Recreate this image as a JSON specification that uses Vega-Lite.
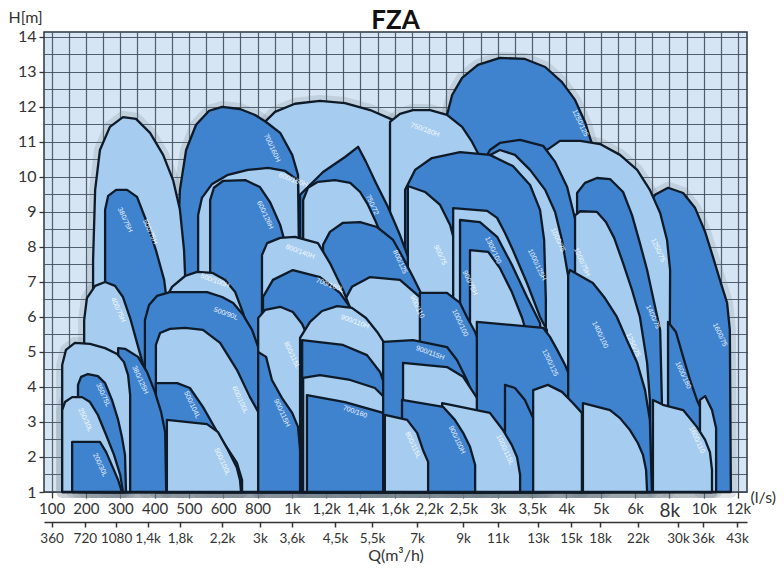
{
"$schema":"https://vega.github.io/schema/vega-lite/v6.json",
"autosize":{"type":"none"},
"padding":{"left":44,"top":32,"right":37,"bottom":82},
"width":703,"height":460,
"background":"#ffffff",
"config":{"view":{"fill":"#d6e5f3","stroke":"#2c3640","strokeWidth":1.5}},
"title":{"text":"FZA","font":"Lato","fontSize":26,"fontWeight":"bold","color":"#111111","anchor":"middle","offset":4,"dy":29},
"datasets":{
"shapes":[
{"id":"s01","s":"D","k":0,"q":11.52,"h":1},{"id":"s01","s":"D","k":1,"q":11.52,"h":11.77},{"id":"s01","s":"D","k":2,"q":11.67,"h":12.34},{"id":"s01","s":"D","k":3,"q":11.96,"h":12.83},{"id":"s01","s":"D","k":4,"q":12.42,"h":13.2},{"id":"s01","s":"D","k":5,"q":13.06,"h":13.4},{"id":"s01","s":"D","k":6,"q":13.79,"h":13.37},{"id":"s01","s":"D","k":7,"q":14.38,"h":13.14},{"id":"s01","s":"D","k":8,"q":14.87,"h":12.71},{"id":"s01","s":"D","k":9,"q":15.25,"h":12.2},{"id":"s01","s":"D","k":10,"q":15.54,"h":11.57},{"id":"s01","s":"D","k":11,"q":15.77,"h":10.86},{"id":"s01","s":"D","k":12,"q":15.98,"h":10.06},{"id":"s01","s":"D","k":13,"q":15.98,"h":1},
{"id":"s02","s":"L","k":0,"q":6.13,"h":1},{"id":"s02","s":"L","k":1,"q":6.13,"h":11.49},{"id":"s02","s":"L","k":2,"q":6.51,"h":11.86},{"id":"s02","s":"L","k":3,"q":7.09,"h":12.09},{"id":"s02","s":"L","k":4,"q":7.82,"h":12.17},{"id":"s02","s":"L","k":5,"q":8.55,"h":12.11},{"id":"s02","s":"L","k":6,"q":9.28,"h":11.91},{"id":"s02","s":"L","k":7,"q":10.01,"h":11.6},{"id":"s02","s":"L","k":8,"q":10.73,"h":11.26},{"id":"s02","s":"L","k":9,"q":11.46,"h":10.83},{"id":"s02","s":"L","k":10,"q":12.05,"h":10.43},{"id":"s02","s":"L","k":11,"q":12.48,"h":9.97},{"id":"s02","s":"L","k":12,"q":12.77,"h":9.34},{"id":"s02","s":"L","k":13,"q":12.92,"h":1},
{"id":"s03","s":"L","k":0,"q":9.86,"h":1},{"id":"s03","s":"L","k":1,"q":9.86,"h":11.57},{"id":"s03","s":"L","k":2,"q":10.15,"h":11.8},{"id":"s03","s":"L","k":3,"q":10.53,"h":11.91},{"id":"s03","s":"L","k":4,"q":11.03,"h":11.91},{"id":"s03","s":"L","k":5,"q":11.52,"h":11.77},{"id":"s03","s":"L","k":6,"q":11.96,"h":11.43},{"id":"s03","s":"L","k":7,"q":12.25,"h":11.0},{"id":"s03","s":"L","k":8,"q":12.48,"h":10.57},{"id":"s03","s":"L","k":9,"q":12.77,"h":9.91},{"id":"s03","s":"L","k":10,"q":12.95,"h":1},
{"id":"s04","s":"D","k":0,"q":17.14,"h":1},{"id":"s04","s":"D","k":1,"q":17.14,"h":8.49},{"id":"s04","s":"D","k":2,"q":17.29,"h":9.06},{"id":"s04","s":"D","k":3,"q":17.58,"h":9.49},{"id":"s04","s":"D","k":4,"q":17.96,"h":9.69},{"id":"s04","s":"D","k":5,"q":18.4,"h":9.54},{"id":"s04","s":"D","k":6,"q":18.75,"h":9.11},{"id":"s04","s":"D","k":7,"q":19.04,"h":8.43},{"id":"s04","s":"D","k":8,"q":19.27,"h":7.71},{"id":"s04","s":"D","k":9,"q":19.47,"h":7.06},{"id":"s04","s":"D","k":10,"q":19.68,"h":6.4},{"id":"s04","s":"D","k":11,"q":19.76,"h":5.63},{"id":"s04","s":"D","k":12,"q":19.79,"h":1},
{"id":"s05","s":"L","k":0,"q":13.94,"h":1},{"id":"s05","s":"L","k":1,"q":13.94,"h":10.2},{"id":"s05","s":"L","k":2,"q":14.23,"h":10.63},{"id":"s05","s":"L","k":3,"q":14.81,"h":11.03},{"id":"s05","s":"L","k":4,"q":15.4,"h":11.03},{"id":"s05","s":"L","k":5,"q":15.98,"h":10.94},{"id":"s05","s":"L","k":6,"q":16.56,"h":10.63},{"id":"s05","s":"L","k":7,"q":17.06,"h":10.2},{"id":"s05","s":"L","k":8,"q":17.43,"h":9.63},{"id":"s05","s":"L","k":9,"q":17.73,"h":8.97},{"id":"s05","s":"L","k":10,"q":17.93,"h":8.2},{"id":"s05","s":"L","k":11,"q":18.02,"h":7.34},{"id":"s05","s":"L","k":12,"q":17.99,"h":1},
{"id":"s06","s":"D","k":0,"q":12.54,"h":1},{"id":"s06","s":"D","k":1,"q":12.54,"h":10.34},{"id":"s06","s":"D","k":2,"q":12.77,"h":10.77},{"id":"s06","s":"D","k":3,"q":13.06,"h":10.97},{"id":"s06","s":"D","k":4,"q":13.65,"h":11.06},{"id":"s06","s":"D","k":5,"q":14.32,"h":10.89},{"id":"s06","s":"D","k":6,"q":14.67,"h":10.43},{"id":"s06","s":"D","k":7,"q":15.02,"h":9.71},{"id":"s06","s":"D","k":8,"q":15.31,"h":8.57},{"id":"s06","s":"D","k":9,"q":15.6,"h":7.26},{"id":"s06","s":"D","k":10,"q":15.89,"h":5.91},{"id":"s06","s":"D","k":11,"q":16.07,"h":4.77},{"id":"s06","s":"D","k":12,"q":16.12,"h":1},
{"id":"s07","s":"L","k":0,"q":12.42,"h":1},{"id":"s07","s":"L","k":1,"q":12.42,"h":10.06},{"id":"s07","s":"L","k":2,"q":12.72,"h":10.6},{"id":"s07","s":"L","k":3,"q":13.06,"h":10.77},{"id":"s07","s":"L","k":4,"q":13.5,"h":10.63},{"id":"s07","s":"L","k":5,"q":13.94,"h":10.2},{"id":"s07","s":"L","k":6,"q":14.38,"h":9.63},{"id":"s07","s":"L","k":7,"q":14.67,"h":9.0},{"id":"s07","s":"L","k":8,"q":14.87,"h":8.2},{"id":"s07","s":"L","k":9,"q":15.02,"h":7.34},{"id":"s07","s":"L","k":10,"q":15.25,"h":6.06},{"id":"s07","s":"L","k":11,"q":15.45,"h":4.77},{"id":"s07","s":"L","k":12,"q":15.51,"h":1},
{"id":"s08","s":"D","k":0,"q":10.3,"h":1},{"id":"s08","s":"D","k":1,"q":10.3,"h":9.63},{"id":"s08","s":"D","k":2,"q":10.59,"h":10.2},{"id":"s08","s":"D","k":3,"q":11.08,"h":10.54},{"id":"s08","s":"D","k":4,"q":11.9,"h":10.71},{"id":"s08","s":"D","k":5,"q":12.77,"h":10.63},{"id":"s08","s":"D","k":6,"q":13.44,"h":10.31},{"id":"s08","s":"D","k":7,"q":13.94,"h":9.77},{"id":"s08","s":"D","k":8,"q":14.23,"h":9.06},{"id":"s08","s":"D","k":9,"q":14.35,"h":8.2},{"id":"s08","s":"D","k":10,"q":14.4,"h":6.49},{"id":"s08","s":"D","k":11,"q":14.4,"h":1},
{"id":"s09","s":"D","k":0,"q":15.31,"h":1},{"id":"s09","s":"D","k":1,"q":15.31,"h":9.54},{"id":"s09","s":"D","k":2,"q":15.54,"h":9.83},{"id":"s09","s":"D","k":3,"q":15.89,"h":9.97},{"id":"s09","s":"D","k":4,"q":16.27,"h":9.94},{"id":"s09","s":"D","k":5,"q":16.65,"h":9.57},{"id":"s09","s":"D","k":6,"q":16.91,"h":8.91},{"id":"s09","s":"D","k":7,"q":17.14,"h":8.11},{"id":"s09","s":"D","k":8,"q":17.35,"h":7.34},{"id":"s09","s":"D","k":9,"q":17.52,"h":6.57},{"id":"s09","s":"D","k":10,"q":17.73,"h":5.63},{"id":"s09","s":"D","k":11,"q":17.78,"h":3.63},{"id":"s09","s":"D","k":12,"q":17.78,"h":1},
{"id":"s10","s":"L","k":0,"q":15.25,"h":1},{"id":"s10","s":"L","k":1,"q":15.25,"h":8.9},{"id":"s10","s":"L","k":2,"q":15.4,"h":9.02},{"id":"s10","s":"L","k":3,"q":15.89,"h":9.0},{"id":"s10","s":"L","k":4,"q":16.15,"h":8.71},{"id":"s10","s":"L","k":5,"q":16.39,"h":8.26},{"id":"s10","s":"L","k":6,"q":16.65,"h":7.54},{"id":"s10","s":"L","k":7,"q":16.91,"h":6.77},{"id":"s10","s":"L","k":8,"q":17.14,"h":6.0},{"id":"s10","s":"L","k":9,"q":17.35,"h":4.69},{"id":"s10","s":"L","k":10,"q":17.43,"h":3.63},{"id":"s10","s":"L","k":11,"q":17.43,"h":1},
{"id":"s11","s":"D","k":0,"q":3.68,"h":1},{"id":"s11","s":"D","k":1,"q":3.68,"h":8.2},{"id":"s11","s":"D","k":2,"q":3.74,"h":9.63},{"id":"s11","s":"D","k":3,"q":3.92,"h":10.77},{"id":"s11","s":"D","k":4,"q":4.21,"h":11.49},{"id":"s11","s":"D","k":5,"q":4.59,"h":11.89},{"id":"s11","s":"D","k":6,"q":4.97,"h":12.0},{"id":"s11","s":"D","k":7,"q":5.49,"h":11.94},{"id":"s11","s":"D","k":8,"q":5.93,"h":11.77},{"id":"s11","s":"D","k":9,"q":6.25,"h":11.57},{"id":"s11","s":"D","k":10,"q":6.66,"h":11.26},{"id":"s11","s":"D","k":11,"q":7.01,"h":10.63},{"id":"s11","s":"D","k":12,"q":7.18,"h":10.06},{"id":"s11","s":"D","k":13,"q":7.24,"h":1},
{"id":"s12","s":"L","k":0,"q":1.21,"h":1},{"id":"s12","s":"L","k":1,"q":1.21,"h":7.63},{"id":"s12","s":"L","k":2,"q":1.27,"h":9.63},{"id":"s12","s":"L","k":3,"q":1.41,"h":10.77},{"id":"s12","s":"L","k":4,"q":1.7,"h":11.43},{"id":"s12","s":"L","k":5,"q":2.08,"h":11.71},{"id":"s12","s":"L","k":6,"q":2.46,"h":11.66},{"id":"s12","s":"L","k":7,"q":2.87,"h":11.26},{"id":"s12","s":"L","k":8,"q":3.25,"h":10.63},{"id":"s12","s":"L","k":9,"q":3.54,"h":9.91},{"id":"s12","s":"L","k":10,"q":3.74,"h":9.06},{"id":"s12","s":"L","k":11,"q":3.86,"h":7.91},{"id":"s12","s":"L","k":12,"q":3.92,"h":6.49},{"id":"s12","s":"L","k":13,"q":3.92,"h":1},
{"id":"s13","s":"D","k":0,"q":1.56,"h":1},{"id":"s13","s":"D","k":1,"q":1.56,"h":9.06},{"id":"s13","s":"D","k":2,"q":1.65,"h":9.46},{"id":"s13","s":"D","k":3,"q":1.88,"h":9.63},{"id":"s13","s":"D","k":4,"q":2.2,"h":9.63},{"id":"s13","s":"D","k":5,"q":2.49,"h":9.43},{"id":"s13","s":"D","k":6,"q":2.75,"h":8.77},{"id":"s13","s":"D","k":7,"q":3.04,"h":7.91},{"id":"s13","s":"D","k":8,"q":3.28,"h":7.06},{"id":"s13","s":"D","k":9,"q":3.39,"h":6.2},{"id":"s13","s":"D","k":10,"q":3.39,"h":1},
{"id":"s14","s":"L","k":0,"q":4.27,"h":1},{"id":"s14","s":"L","k":1,"q":4.27,"h":8.91},{"id":"s14","s":"L","k":2,"q":4.38,"h":9.4},{"id":"s14","s":"L","k":3,"q":4.68,"h":9.8},{"id":"s14","s":"L","k":4,"q":5.14,"h":10.06},{"id":"s14","s":"L","k":5,"q":5.72,"h":10.2},{"id":"s14","s":"L","k":6,"q":6.31,"h":10.26},{"id":"s14","s":"L","k":7,"q":6.8,"h":10.17},{"id":"s14","s":"L","k":8,"q":7.18,"h":9.91},{"id":"s14","s":"L","k":9,"q":7.3,"h":1},
{"id":"s15","s":"D","k":0,"q":4.62,"h":1},{"id":"s15","s":"D","k":1,"q":4.62,"h":9.34},{"id":"s15","s":"D","k":2,"q":4.73,"h":9.69},{"id":"s15","s":"D","k":3,"q":5.0,"h":9.89},{"id":"s15","s":"D","k":4,"q":5.64,"h":9.91},{"id":"s15","s":"D","k":5,"q":6.07,"h":9.71},{"id":"s15","s":"D","k":6,"q":6.36,"h":9.29},{"id":"s15","s":"D","k":7,"q":6.66,"h":8.63},{"id":"s15","s":"D","k":8,"q":6.86,"h":7.91},{"id":"s15","s":"D","k":9,"q":6.95,"h":7.06},{"id":"s15","s":"D","k":10,"q":6.95,"h":1},
{"id":"s16","s":"D","k":0,"q":7.24,"h":1},{"id":"s16","s":"D","k":1,"q":7.24,"h":9.49},{"id":"s16","s":"D","k":2,"q":7.91,"h":10.14},{"id":"s16","s":"D","k":3,"q":8.55,"h":10.57},{"id":"s16","s":"D","k":4,"q":8.93,"h":10.86},{"id":"s16","s":"D","k":5,"q":9.16,"h":10.43},{"id":"s16","s":"D","k":6,"q":9.45,"h":9.83},{"id":"s16","s":"D","k":7,"q":9.8,"h":9.14},{"id":"s16","s":"D","k":8,"q":10.15,"h":8.34},{"id":"s16","s":"D","k":9,"q":10.44,"h":7.57},{"id":"s16","s":"D","k":10,"q":10.73,"h":6.71},{"id":"s16","s":"D","k":11,"q":10.91,"h":5.63},{"id":"s16","s":"D","k":12,"q":10.94,"h":1},
{"id":"s17","s":"L","k":0,"q":7.33,"h":1},{"id":"s17","s":"L","k":1,"q":7.33,"h":9.34},{"id":"s17","s":"L","k":2,"q":7.47,"h":9.69},{"id":"s17","s":"L","k":3,"q":7.76,"h":9.86},{"id":"s17","s":"L","k":4,"q":8.26,"h":9.91},{"id":"s17","s":"L","k":5,"q":8.7,"h":9.83},{"id":"s17","s":"L","k":6,"q":8.99,"h":9.57},{"id":"s17","s":"L","k":7,"q":9.22,"h":9.2},{"id":"s17","s":"L","k":8,"q":9.45,"h":8.71},{"id":"s17","s":"L","k":9,"q":9.69,"h":8.14},{"id":"s17","s":"L","k":10,"q":9.92,"h":7.49},{"id":"s17","s":"L","k":11,"q":10.09,"h":6.77},{"id":"s17","s":"L","k":12,"q":10.15,"h":1},
{"id":"s18","s":"L","k":0,"q":10.38,"h":1},{"id":"s18","s":"L","k":1,"q":10.38,"h":9.74},{"id":"s18","s":"L","k":2,"q":10.88,"h":9.57},{"id":"s18","s":"L","k":3,"q":11.32,"h":9.2},{"id":"s18","s":"L","k":4,"q":11.61,"h":8.63},{"id":"s18","s":"L","k":5,"q":11.81,"h":7.91},{"id":"s18","s":"L","k":6,"q":11.9,"h":6.97},{"id":"s18","s":"L","k":7,"q":11.96,"h":5.63},{"id":"s18","s":"L","k":8,"q":11.96,"h":1},
{"id":"s19","s":"L","k":0,"q":11.7,"h":1},{"id":"s19","s":"L","k":1,"q":11.7,"h":9.11},{"id":"s19","s":"L","k":2,"q":12.69,"h":9.03},{"id":"s19","s":"L","k":3,"q":12.98,"h":8.83},{"id":"s19","s":"L","k":4,"q":13.21,"h":8.4},{"id":"s19","s":"L","k":5,"q":13.44,"h":7.91},{"id":"s19","s":"L","k":6,"q":13.85,"h":6.97},{"id":"s19","s":"L","k":7,"q":14.23,"h":6.0},{"id":"s19","s":"L","k":8,"q":14.43,"h":5.63},{"id":"s19","s":"L","k":9,"q":14.46,"h":1},
{"id":"s20","s":"D","k":0,"q":11.9,"h":1},{"id":"s20","s":"D","k":1,"q":11.9,"h":8.77},{"id":"s20","s":"D","k":2,"q":12.48,"h":8.71},{"id":"s20","s":"D","k":3,"q":12.98,"h":8.29},{"id":"s20","s":"D","k":4,"q":13.44,"h":7.43},{"id":"s20","s":"D","k":5,"q":13.85,"h":6.57},{"id":"s20","s":"D","k":6,"q":14.23,"h":5.83},{"id":"s20","s":"D","k":7,"q":14.29,"h":5.2},{"id":"s20","s":"D","k":8,"q":14.29,"h":1},
{"id":"s21","s":"L","k":0,"q":12.19,"h":1},{"id":"s21","s":"L","k":1,"q":12.19,"h":7.91},{"id":"s21","s":"L","k":2,"q":12.72,"h":7.86},{"id":"s21","s":"L","k":3,"q":13.06,"h":7.4},{"id":"s21","s":"L","k":4,"q":13.41,"h":6.71},{"id":"s21","s":"L","k":5,"q":13.71,"h":5.97},{"id":"s21","s":"L","k":6,"q":13.94,"h":5.2},{"id":"s21","s":"L","k":7,"q":14.0,"h":1},
{"id":"s22","s":"D","k":0,"q":7.91,"h":1},{"id":"s22","s":"D","k":1,"q":7.91,"h":8.06},{"id":"s22","s":"D","k":2,"q":8.11,"h":8.43},{"id":"s22","s":"D","k":3,"q":8.49,"h":8.69},{"id":"s22","s":"D","k":4,"q":8.99,"h":8.71},{"id":"s22","s":"D","k":5,"q":9.48,"h":8.57},{"id":"s22","s":"D","k":6,"q":9.95,"h":8.2},{"id":"s22","s":"D","k":7,"q":10.24,"h":7.69},{"id":"s22","s":"D","k":8,"q":10.53,"h":7.14},{"id":"s22","s":"D","k":9,"q":10.82,"h":6.57},{"id":"s22","s":"D","k":10,"q":11.03,"h":5.91},{"id":"s22","s":"D","k":11,"q":11.08,"h":1},
{"id":"s23","s":"L","k":0,"q":8.55,"h":1},{"id":"s23","s":"L","k":1,"q":8.55,"h":6.49},{"id":"s23","s":"L","k":2,"q":8.75,"h":6.86},{"id":"s23","s":"L","k":3,"q":9.28,"h":7.14},{"id":"s23","s":"L","k":4,"q":10.15,"h":7.06},{"id":"s23","s":"L","k":5,"q":10.73,"h":6.57},{"id":"s23","s":"L","k":6,"q":11.11,"h":5.83},{"id":"s23","s":"L","k":7,"q":11.32,"h":5.34},{"id":"s23","s":"L","k":8,"q":11.46,"h":4.77},{"id":"s23","s":"L","k":9,"q":11.49,"h":1},
{"id":"s24","s":"D","k":0,"q":10.73,"h":1},{"id":"s24","s":"D","k":1,"q":10.73,"h":6.69},{"id":"s24","s":"D","k":2,"q":11.52,"h":6.69},{"id":"s24","s":"D","k":3,"q":11.9,"h":6.4},{"id":"s24","s":"D","k":4,"q":12.1,"h":6.0},{"id":"s24","s":"D","k":5,"q":12.34,"h":5.57},{"id":"s24","s":"D","k":6,"q":12.48,"h":5.2},{"id":"s24","s":"D","k":7,"q":12.54,"h":1},
{"id":"s25","s":"L","k":0,"q":3.31,"h":1},{"id":"s25","s":"L","k":1,"q":3.31,"h":6.49},{"id":"s25","s":"L","k":2,"q":3.51,"h":6.86},{"id":"s25","s":"L","k":3,"q":3.89,"h":7.17},{"id":"s25","s":"L","k":4,"q":4.24,"h":7.29},{"id":"s25","s":"L","k":5,"q":4.68,"h":7.26},{"id":"s25","s":"L","k":6,"q":5.05,"h":7.06},{"id":"s25","s":"L","k":7,"q":5.35,"h":6.71},{"id":"s25","s":"L","k":8,"q":5.58,"h":6.11},{"id":"s25","s":"L","k":9,"q":5.78,"h":5.49},{"id":"s25","s":"L","k":10,"q":5.93,"h":4.77},{"id":"s25","s":"L","k":11,"q":6.02,"h":1},
{"id":"s26","s":"D","k":0,"q":2.72,"h":1},{"id":"s26","s":"D","k":1,"q":2.72,"h":5.91},{"id":"s26","s":"D","k":2,"q":2.84,"h":6.34},{"id":"s26","s":"D","k":3,"q":3.07,"h":6.6},{"id":"s26","s":"D","k":4,"q":3.45,"h":6.71},{"id":"s26","s":"D","k":5,"q":4.53,"h":6.71},{"id":"s26","s":"D","k":6,"q":4.97,"h":6.57},{"id":"s26","s":"D","k":7,"q":5.29,"h":6.4},{"id":"s26","s":"D","k":8,"q":5.58,"h":6.06},{"id":"s26","s":"D","k":9,"q":5.84,"h":5.63},{"id":"s26","s":"D","k":10,"q":6.02,"h":5.14},{"id":"s26","s":"D","k":11,"q":6.13,"h":4.49},{"id":"s26","s":"D","k":12,"q":6.13,"h":1},
{"id":"s27","s":"L","k":0,"q":3.04,"h":1},{"id":"s27","s":"L","k":1,"q":3.04,"h":5.2},{"id":"s27","s":"L","k":2,"q":3.16,"h":5.54},{"id":"s27","s":"L","k":3,"q":3.45,"h":5.66},{"id":"s27","s":"L","k":4,"q":3.89,"h":5.69},{"id":"s27","s":"L","k":5,"q":4.41,"h":5.63},{"id":"s27","s":"L","k":6,"q":4.91,"h":5.26},{"id":"s27","s":"L","k":7,"q":5.4,"h":4.49},{"id":"s27","s":"L","k":8,"q":5.78,"h":3.71},{"id":"s27","s":"L","k":9,"q":6.02,"h":3.29},{"id":"s27","s":"L","k":10,"q":6.02,"h":1},
{"id":"s28","s":"D","k":0,"q":3.04,"h":1},{"id":"s28","s":"D","k":1,"q":3.04,"h":4.11},{"id":"s28","s":"D","k":2,"q":3.66,"h":4.11},{"id":"s28","s":"D","k":3,"q":4.03,"h":3.97},{"id":"s28","s":"D","k":4,"q":4.41,"h":3.43},{"id":"s28","s":"D","k":5,"q":4.91,"h":2.57},{"id":"s28","s":"D","k":6,"q":5.4,"h":1.83},{"id":"s28","s":"D","k":7,"q":5.55,"h":1.34},{"id":"s28","s":"D","k":8,"q":5.55,"h":1},
{"id":"s29","s":"L","k":0,"q":3.36,"h":1},{"id":"s29","s":"L","k":1,"q":3.36,"h":3.06},{"id":"s29","s":"L","k":2,"q":4.53,"h":2.94},{"id":"s29","s":"L","k":3,"q":4.85,"h":2.71},{"id":"s29","s":"L","k":4,"q":5.14,"h":2.2},{"id":"s29","s":"L","k":5,"q":5.4,"h":1.69},{"id":"s29","s":"L","k":6,"q":5.49,"h":1.34},{"id":"s29","s":"L","k":7,"q":5.52,"h":1},
{"id":"s30","s":"L","k":0,"q":6.13,"h":1},{"id":"s30","s":"L","k":1,"q":6.13,"h":7.77},{"id":"s30","s":"L","k":2,"q":6.28,"h":8.11},{"id":"s30","s":"L","k":3,"q":6.66,"h":8.26},{"id":"s30","s":"L","k":4,"q":7.09,"h":8.29},{"id":"s30","s":"L","k":5,"q":7.76,"h":8.11},{"id":"s30","s":"L","k":6,"q":8.11,"h":7.54},{"id":"s30","s":"L","k":7,"q":8.49,"h":6.77},{"id":"s30","s":"L","k":8,"q":8.84,"h":5.91},{"id":"s30","s":"L","k":9,"q":9.19,"h":4.91},{"id":"s30","s":"L","k":10,"q":9.42,"h":3.91},{"id":"s30","s":"L","k":11,"q":9.51,"h":1},
{"id":"s31","s":"D","k":0,"q":6.16,"h":1},{"id":"s31","s":"D","k":1,"q":6.16,"h":6.57},{"id":"s31","s":"D","k":2,"q":6.45,"h":7.06},{"id":"s31","s":"D","k":3,"q":7.03,"h":7.34},{"id":"s31","s":"D","k":4,"q":7.82,"h":7.14},{"id":"s31","s":"D","k":5,"q":8.4,"h":6.69},{"id":"s31","s":"D","k":6,"q":8.75,"h":6.2},{"id":"s31","s":"D","k":7,"q":9.04,"h":5.49},{"id":"s31","s":"D","k":8,"q":9.28,"h":4.77},{"id":"s31","s":"D","k":9,"q":9.45,"h":3.86},{"id":"s31","s":"D","k":10,"q":9.48,"h":1},
{"id":"s32","s":"L","k":0,"q":6.02,"h":1},{"id":"s32","s":"L","k":1,"q":6.02,"h":5.97},{"id":"s32","s":"L","k":2,"q":6.22,"h":6.2},{"id":"s32","s":"L","k":3,"q":6.66,"h":6.29},{"id":"s32","s":"L","k":4,"q":7.03,"h":6.14},{"id":"s32","s":"L","k":5,"q":7.3,"h":5.8},{"id":"s32","s":"L","k":6,"q":7.53,"h":5.29},{"id":"s32","s":"L","k":7,"q":7.76,"h":4.71},{"id":"s32","s":"L","k":8,"q":7.97,"h":4.06},{"id":"s32","s":"L","k":9,"q":8.03,"h":1},
{"id":"s33","s":"L","k":0,"q":7.24,"h":1},{"id":"s33","s":"L","k":1,"q":7.24,"h":5.4},{"id":"s33","s":"L","k":2,"q":7.53,"h":5.86},{"id":"s33","s":"L","k":3,"q":7.88,"h":6.17},{"id":"s33","s":"L","k":4,"q":8.32,"h":6.31},{"id":"s33","s":"L","k":5,"q":8.75,"h":6.26},{"id":"s33","s":"L","k":6,"q":9.16,"h":5.97},{"id":"s33","s":"L","k":7,"q":9.51,"h":5.54},{"id":"s33","s":"L","k":8,"q":9.77,"h":5.14},{"id":"s33","s":"L","k":9,"q":10.01,"h":4.63},{"id":"s33","s":"L","k":10,"q":10.15,"h":4.06},{"id":"s33","s":"L","k":11,"q":10.18,"h":1},
{"id":"s34","s":"D","k":0,"q":7.3,"h":1},{"id":"s34","s":"D","k":1,"q":7.3,"h":5.34},{"id":"s34","s":"D","k":2,"q":8.49,"h":5.2},{"id":"s34","s":"D","k":3,"q":9.19,"h":4.91},{"id":"s34","s":"D","k":4,"q":9.57,"h":4.43},{"id":"s34","s":"D","k":5,"q":9.77,"h":3.86},{"id":"s34","s":"D","k":6,"q":9.86,"h":1},
{"id":"s35","s":"L","k":0,"q":7.33,"h":1},{"id":"s35","s":"L","k":1,"q":7.33,"h":4.26},{"id":"s35","s":"L","k":2,"q":7.82,"h":4.34},{"id":"s35","s":"L","k":3,"q":8.7,"h":4.2},{"id":"s35","s":"L","k":4,"q":9.42,"h":3.97},{"id":"s35","s":"L","k":5,"q":9.71,"h":3.69},{"id":"s35","s":"L","k":6,"q":9.74,"h":1},
{"id":"s36","s":"D","k":0,"q":6.02,"h":1},{"id":"s36","s":"D","k":1,"q":6.02,"h":5.0},{"id":"s36","s":"D","k":2,"q":6.25,"h":4.86},{"id":"s36","s":"D","k":3,"q":6.42,"h":4.2},{"id":"s36","s":"D","k":4,"q":6.71,"h":3.69},{"id":"s36","s":"D","k":5,"q":7.01,"h":3.26},{"id":"s36","s":"D","k":6,"q":7.18,"h":2.86},{"id":"s36","s":"D","k":7,"q":7.24,"h":2.2},{"id":"s36","s":"D","k":8,"q":7.24,"h":1},
{"id":"s37","s":"D","k":0,"q":7.44,"h":1},{"id":"s37","s":"D","k":1,"q":7.44,"h":3.77},{"id":"s37","s":"D","k":2,"q":8.55,"h":3.57},{"id":"s37","s":"D","k":3,"q":9.66,"h":3.26},{"id":"s37","s":"D","k":4,"q":9.69,"h":1},
{"id":"s38","s":"D","k":0,"q":9.66,"h":1},{"id":"s38","s":"D","k":1,"q":9.66,"h":5.29},{"id":"s38","s":"D","k":2,"q":10.53,"h":5.34},{"id":"s38","s":"D","k":3,"q":11.52,"h":5.14},{"id":"s38","s":"D","k":4,"q":11.81,"h":4.77},{"id":"s38","s":"D","k":5,"q":12.1,"h":4.2},{"id":"s38","s":"D","k":6,"q":12.34,"h":3.63},{"id":"s38","s":"D","k":7,"q":12.42,"h":1},
{"id":"s39","s":"L","k":0,"q":10.24,"h":1},{"id":"s39","s":"L","k":1,"q":10.24,"h":4.69},{"id":"s39","s":"L","k":2,"q":11.52,"h":4.57},{"id":"s39","s":"L","k":3,"q":11.99,"h":4.29},{"id":"s39","s":"L","k":4,"q":12.34,"h":3.77},{"id":"s39","s":"L","k":5,"q":12.63,"h":3.34},{"id":"s39","s":"L","k":6,"q":12.83,"h":2.77},{"id":"s39","s":"L","k":7,"q":12.92,"h":1},
{"id":"s40","s":"D","k":0,"q":12.39,"h":1},{"id":"s40","s":"D","k":1,"q":12.39,"h":5.86},{"id":"s40","s":"D","k":2,"q":14.32,"h":5.69},{"id":"s40","s":"D","k":3,"q":14.52,"h":5.43},{"id":"s40","s":"D","k":4,"q":14.73,"h":5.06},{"id":"s40","s":"D","k":5,"q":14.96,"h":4.63},{"id":"s40","s":"D","k":6,"q":15.1,"h":4.29},{"id":"s40","s":"D","k":7,"q":15.25,"h":3.63},{"id":"s40","s":"D","k":8,"q":15.31,"h":1},
{"id":"s41","s":"D","k":0,"q":13.21,"h":1},{"id":"s41","s":"D","k":1,"q":13.21,"h":4.06},{"id":"s41","s":"D","k":2,"q":13.5,"h":3.97},{"id":"s41","s":"D","k":3,"q":13.79,"h":3.63},{"id":"s41","s":"D","k":4,"q":14.03,"h":3.11},{"id":"s41","s":"D","k":5,"q":14.06,"h":1},
{"id":"s42","s":"L","k":0,"q":11.38,"h":1},{"id":"s42","s":"L","k":1,"q":11.38,"h":3.54},{"id":"s42","s":"L","k":2,"q":12.77,"h":3.26},{"id":"s42","s":"L","k":3,"q":13.15,"h":2.77},{"id":"s42","s":"L","k":4,"q":13.41,"h":2.34},{"id":"s42","s":"L","k":5,"q":13.56,"h":2.0},{"id":"s42","s":"L","k":6,"q":13.65,"h":1.49},{"id":"s42","s":"L","k":7,"q":13.65,"h":1},
{"id":"s43","s":"D","k":0,"q":10.21,"h":1},{"id":"s43","s":"D","k":1,"q":10.21,"h":3.63},{"id":"s43","s":"D","k":2,"q":11.41,"h":3.43},{"id":"s43","s":"D","k":3,"q":11.75,"h":3.06},{"id":"s43","s":"D","k":4,"q":11.99,"h":2.69},{"id":"s43","s":"D","k":5,"q":12.19,"h":2.29},{"id":"s43","s":"D","k":6,"q":12.34,"h":1.77},{"id":"s43","s":"D","k":7,"q":12.34,"h":1},
{"id":"s44","s":"L","k":0,"q":9.71,"h":1},{"id":"s44","s":"L","k":1,"q":9.71,"h":3.2},{"id":"s44","s":"L","k":2,"q":10.36,"h":3.06},{"id":"s44","s":"L","k":3,"q":10.65,"h":2.69},{"id":"s44","s":"L","k":4,"q":10.82,"h":2.2},{"id":"s44","s":"L","k":5,"q":10.97,"h":1.86},{"id":"s44","s":"L","k":6,"q":10.97,"h":1},
{"id":"s45","s":"D","k":0,"q":15.05,"h":1},{"id":"s45","s":"D","k":1,"q":15.05,"h":7.2},{"id":"s45","s":"D","k":2,"q":15.1,"h":7.34},{"id":"s45","s":"D","k":3,"q":15.77,"h":6.97},{"id":"s45","s":"D","k":4,"q":16.12,"h":6.54},{"id":"s45","s":"D","k":5,"q":16.47,"h":6.0},{"id":"s45","s":"D","k":6,"q":16.76,"h":5.34},{"id":"s45","s":"D","k":7,"q":17.06,"h":4.69},{"id":"s45","s":"D","k":8,"q":17.29,"h":3.91},{"id":"s45","s":"D","k":9,"q":17.43,"h":3.06},{"id":"s45","s":"D","k":10,"q":17.49,"h":1},
{"id":"s46","s":"L","k":0,"q":14.03,"h":1},{"id":"s46","s":"L","k":1,"q":14.03,"h":3.91},{"id":"s46","s":"L","k":2,"q":14.46,"h":4.06},{"id":"s46","s":"L","k":3,"q":14.87,"h":3.86},{"id":"s46","s":"L","k":4,"q":15.16,"h":3.57},{"id":"s46","s":"L","k":5,"q":15.45,"h":3.26},{"id":"s46","s":"L","k":6,"q":15.45,"h":1},
{"id":"s47","s":"L","k":0,"q":15.48,"h":1},{"id":"s47","s":"L","k":1,"q":15.48,"h":3.54},{"id":"s47","s":"L","k":2,"q":16.27,"h":3.34},{"id":"s47","s":"L","k":3,"q":16.56,"h":3.11},{"id":"s47","s":"L","k":4,"q":16.85,"h":2.77},{"id":"s47","s":"L","k":5,"q":17.08,"h":2.4},{"id":"s47","s":"L","k":6,"q":17.23,"h":2.06},{"id":"s47","s":"L","k":7,"q":17.32,"h":1.63},{"id":"s47","s":"L","k":8,"q":17.35,"h":1},
{"id":"s48","s":"D","k":0,"q":17.96,"h":1},{"id":"s48","s":"D","k":1,"q":17.96,"h":5.86},{"id":"s48","s":"D","k":2,"q":18.19,"h":5.57},{"id":"s48","s":"D","k":3,"q":18.4,"h":4.86},{"id":"s48","s":"D","k":4,"q":18.6,"h":4.2},{"id":"s48","s":"D","k":5,"q":18.8,"h":3.63},{"id":"s48","s":"D","k":6,"q":19.04,"h":3.11},{"id":"s48","s":"D","k":7,"q":19.21,"h":2.49},{"id":"s48","s":"D","k":8,"q":19.24,"h":1},
{"id":"s49","s":"L","k":0,"q":18.89,"h":1},{"id":"s49","s":"L","k":1,"q":18.89,"h":3.63},{"id":"s49","s":"L","k":2,"q":19.04,"h":3.74},{"id":"s49","s":"L","k":3,"q":19.24,"h":3.34},{"id":"s49","s":"L","k":4,"q":19.36,"h":2.83},{"id":"s49","s":"L","k":5,"q":19.36,"h":1},
{"id":"s50","s":"L","k":0,"q":17.52,"h":1},{"id":"s50","s":"L","k":1,"q":17.52,"h":3.63},{"id":"s50","s":"L","k":2,"q":17.81,"h":3.49},{"id":"s50","s":"L","k":3,"q":18.4,"h":3.34},{"id":"s50","s":"L","k":4,"q":18.8,"h":2.86},{"id":"s50","s":"L","k":5,"q":19.04,"h":2.49},{"id":"s50","s":"L","k":6,"q":19.18,"h":2.14},{"id":"s50","s":"L","k":7,"q":19.24,"h":1.63},{"id":"s50","s":"L","k":8,"q":19.24,"h":1},
{"id":"s51","s":"L","k":0,"q":0.95,"h":1},{"id":"s51","s":"L","k":1,"q":0.95,"h":5.91},{"id":"s51","s":"L","k":2,"q":1.03,"h":6.54},{"id":"s51","s":"L","k":3,"q":1.27,"h":6.89},{"id":"s51","s":"L","k":4,"q":1.56,"h":7.0},{"id":"s51","s":"L","k":5,"q":1.85,"h":6.89},{"id":"s51","s":"L","k":6,"q":2.08,"h":6.57},{"id":"s51","s":"L","k":7,"q":2.29,"h":5.97},{"id":"s51","s":"L","k":8,"q":2.49,"h":5.26},{"id":"s51","s":"L","k":9,"q":2.67,"h":4.63},{"id":"s51","s":"L","k":10,"q":2.78,"h":4.06},{"id":"s51","s":"L","k":11,"q":2.78,"h":1},
{"id":"s52","s":"D","k":0,"q":1.94,"h":1},{"id":"s52","s":"D","k":1,"q":1.94,"h":5.11},{"id":"s52","s":"D","k":2,"q":2.14,"h":5.09},{"id":"s52","s":"D","k":3,"q":2.52,"h":4.86},{"id":"s52","s":"D","k":4,"q":2.78,"h":4.43},{"id":"s52","s":"D","k":5,"q":3.01,"h":3.86},{"id":"s52","s":"D","k":6,"q":3.19,"h":3.29},{"id":"s52","s":"D","k":7,"q":3.31,"h":2.71},{"id":"s52","s":"D","k":8,"q":3.34,"h":1},
{"id":"s53","s":"L","k":0,"q":0.31,"h":1},{"id":"s53","s":"L","k":1,"q":0.31,"h":4.63},{"id":"s53","s":"L","k":2,"q":0.42,"h":5.06},{"id":"s53","s":"L","k":3,"q":0.68,"h":5.26},{"id":"s53","s":"L","k":4,"q":1.12,"h":5.23},{"id":"s53","s":"L","k":5,"q":1.56,"h":5.11},{"id":"s53","s":"L","k":6,"q":1.91,"h":4.94},{"id":"s53","s":"L","k":7,"q":2.11,"h":4.71},{"id":"s53","s":"L","k":8,"q":2.23,"h":4.34},{"id":"s53","s":"L","k":9,"q":2.29,"h":3.77},{"id":"s53","s":"L","k":10,"q":2.29,"h":1},
{"id":"s54","s":"D","k":0,"q":0.77,"h":1},{"id":"s54","s":"D","k":1,"q":0.77,"h":4.06},{"id":"s54","s":"D","k":2,"q":0.86,"h":4.29},{"id":"s54","s":"D","k":3,"q":1.06,"h":4.37},{"id":"s54","s":"D","k":4,"q":1.35,"h":4.31},{"id":"s54","s":"D","k":5,"q":1.56,"h":4.11},{"id":"s54","s":"D","k":6,"q":1.76,"h":3.63},{"id":"s54","s":"D","k":7,"q":1.94,"h":3.06},{"id":"s54","s":"D","k":8,"q":2.05,"h":2.57},{"id":"s54","s":"D","k":9,"q":2.14,"h":2.06},{"id":"s54","s":"D","k":10,"q":2.17,"h":1},
{"id":"s55","s":"L","k":0,"q":0.31,"h":1},{"id":"s55","s":"L","k":1,"q":0.31,"h":3.34},{"id":"s55","s":"L","k":2,"q":0.39,"h":3.57},{"id":"s55","s":"L","k":3,"q":0.6,"h":3.71},{"id":"s55","s":"L","k":4,"q":0.89,"h":3.71},{"id":"s55","s":"L","k":5,"q":1.12,"h":3.57},{"id":"s55","s":"L","k":6,"q":1.35,"h":3.2},{"id":"s55","s":"L","k":7,"q":1.59,"h":2.63},{"id":"s55","s":"L","k":8,"q":1.82,"h":2.06},{"id":"s55","s":"L","k":9,"q":2.0,"h":1.49},{"id":"s55","s":"L","k":10,"q":2.08,"h":1},
{"id":"s56","s":"D","k":0,"q":0.6,"h":1},{"id":"s56","s":"D","k":1,"q":0.6,"h":2.43},{"id":"s56","s":"D","k":2,"q":1.41,"h":2.43},{"id":"s56","s":"D","k":3,"q":1.59,"h":2.14},{"id":"s56","s":"D","k":4,"q":1.79,"h":1.69},{"id":"s56","s":"D","k":5,"q":1.94,"h":1.34},{"id":"s56","s":"D","k":6,"q":2.05,"h":1}
],
"tags":[
{"t":"500/75H","q":2.87,"h":8.43,"part":"side"},{"t":"380/75H","q":2.14,"h":8.77,"part":"side"},{"t":"400/75H","q":1.94,"h":6.2,"part":"side"},{"t":"350/75L","q":1.5,"h":3.77,"part":"side"},{"t":"250/30L","q":0.98,"h":3.06,"part":"side"},{"t":"200/30L","q":1.41,"h":1.77,"part":"side"},{"t":"380/125H","q":2.58,"h":4.2,"part":"side"},{"t":"600/100L","q":5.49,"h":3.63,"part":"side"},{"t":"500/104L","q":4.09,"h":3.49,"part":"side"},{"t":"500/100L","q":4.97,"h":1.86,"part":"side"},{"t":"600/126H","q":6.22,"h":8.91,"part":"side"},{"t":"700/160H","q":6.42,"h":10.83,"part":"side"},{"t":"750/72","q":9.34,"h":9.2,"part":"side"},{"t":"800/115L","q":7.0,"h":4.91,"part":"side"},{"t":"900/115H","q":6.71,"h":3.26,"part":"side"},{"t":"800/125","q":10.15,"h":7.57,"part":"side"},{"t":"900/110","q":10.65,"h":6.29,"part":"side"},{"t":"1000/100","q":11.9,"h":5.83,"part":"side"},{"t":"900/100H","q":11.81,"h":2.49,"part":"side"},{"t":"800/115L","q":10.53,"h":2.34,"part":"side"},{"t":"1000/115L","q":13.21,"h":2.2,"part":"side"},{"t":"900/75","q":11.32,"h":7.77,"part":"side"},{"t":"900/75H","q":12.19,"h":6.97,"part":"side"},{"t":"1300/100","q":12.86,"h":7.91,"part":"side"},{"t":"1000/125H","q":14.14,"h":7.49,"part":"side"},{"t":"1200/125","q":14.52,"h":4.69,"part":"side"},{"t":"1250/125","q":15.4,"h":11.54,"part":"side"},{"t":"1000/75H","q":15.45,"h":7.57,"part":"side"},{"t":"1000/75","q":14.75,"h":8.2,"part":"side"},{"t":"1250/75","q":17.67,"h":7.91,"part":"side"},{"t":"1400/75","q":17.52,"h":6.0,"part":"side"},{"t":"1250/75","q":16.94,"h":5.2,"part":"side"},{"t":"1400/100","q":15.98,"h":5.49,"part":"side"},{"t":"1600/110","q":18.8,"h":2.49,"part":"side"},{"t":"1600/75","q":19.47,"h":5.49,"part":"side"},{"t":"1600/180","q":18.4,"h":4.34,"part":"side"},
{"t":"500/100H","q":4.76,"h":7.03,"part":"top"},{"t":"500/90L","q":5.08,"h":6.09,"part":"top"},{"t":"600/150H","q":7.04,"h":9.91,"part":"top"},{"t":"800/140H","q":7.24,"h":7.86,"part":"top"},{"t":"700/160L","q":8.11,"h":6.91,"part":"top"},{"t":"700/160","q":8.84,"h":3.29,"part":"top"},{"t":"900/110H","q":8.84,"h":5.86,"part":"top"},{"t":"900/115H","q":11.03,"h":4.97,"part":"top"},{"t":"750/180H","q":10.88,"h":11.34,"part":"top"}
]
},
"resolve":{"axis":{"x":"independent","y":"independent"}},
"layer":[
{"data":{"name":"shapes"},
 "mark":{"type":"line","interpolate":"linear-closed","stroke":"#6f7b88","strokeWidth":12,"strokeOpacity":0.2,"strokeJoin":"round","fill":null},
 "encoding":{
  "x":{"field":"q","type":"quantitative","scale":{"domain":[-0.22,20.26],"nice":false,"zero":false},"axis":null},
  "y":{"field":"h","type":"quantitative","scale":{"domain":[1,14.14],"nice":false,"zero":false},"axis":null},
  "detail":{"field":"id"},
  "order":{"field":"k","type":"quantitative"}
 }},
{"data":{"name":"shapes"},
 "mark":{"type":"line","interpolate":"linear-closed","stroke":"#0e1a27","strokeWidth":2.3,"strokeJoin":"round"},
 "encoding":{
  "x":{"field":"q","type":"quantitative","scale":{"domain":[-0.22,20.26],"nice":false,"zero":false},
   "axis":{"orient":"bottom","values":[0,0.5,1,1.5,2,2.5,3,3.5,4,4.5,5,5.5,6,6.5,7,7.5,8,8.5,9,9.5,10,10.5,11,11.5,12,12.5,13,13.5,14,14.5,15,15.5,16,16.5,17,17.5,18,18.5,19,19.5,20],
    "grid":true,"gridColor":"#3b4754","gridWidth":1.2,"gridOpacity":0.85,"domain":false,
    "tickSize":6,"tickColor":"#333333","tickWidth":1.3,
    "tickOpacity":{"condition":{"test":"datum.value % 1 === 0","value":1},"value":0},
    "labelExpr":"datum.value % 1 === 0 ? ['100','200','300','400','500','600','800','1k','1,2k','1,4k','1,6k','2,2k','2,5k','3k','3,5k','4k','5k','6k','8k','10k','12k'][datum.value] : ''",
    "labelFont":"Lato","labelFontSize":{"condition":{"test":"datum.value === 18","value":19},"value":15},"labelColor":"#333333","labelPadding":3,"labelOverlap":false,"labelFlush":false,
    "title":"(l/s)","titleX":706,"titleY":-3,"titleAlign":"left","titleBaseline":"top","titleFont":"Lato","titleFontSize":16,"titleFontWeight":"normal","titleColor":"#333333"}},
  "y":{"field":"h","type":"quantitative","scale":{"domain":[1,14.14],"nice":false,"zero":false},
   "axis":{"values":[1,1.5,2,2.5,3,3.5,4,4.5,5,5.5,6,6.5,7,7.5,8,8.5,9,9.5,10,10.5,11,11.5,12,12.5,13,13.5,14],
    "grid":true,"gridColor":"#3b4754","gridWidth":1.2,"gridOpacity":0.85,"domain":false,
    "tickSize":5,"tickColor":"#333333","tickWidth":1.3,
    "tickOpacity":{"condition":{"test":"datum.value % 1 === 0","value":1},"value":0},
    "labelExpr":"datum.value % 1 === 0 ? format(datum.value, 'd') : ''",
    "labelFont":"Lato","labelFontSize":16,"labelColor":"#333333","labelPadding":3,"labelOverlap":false,
    "title":"H[m]","titleAngle":0,"titleX":-36,"titleY":-10,"titleAlign":"left","titleBaseline":"alphabetic","titleFont":"Lato","titleFontSize":16,"titleFontWeight":"normal","titleColor":"#333333"}},
  "fill":{"field":"s","type":"nominal","scale":{"domain":["L","D"],"range":["#a6cdef","#3f83cf"]},"legend":null},
  "detail":{"field":"id"},
  "order":{"field":"k","type":"quantitative"}
 }},
{"data":{"name":"tags"},
 "transform":[{"filter":"datum.part === 'side'"}],
 "mark":{"type":"text","angle":65,"font":"Liberation Sans","fontSize":7,"color":"#ffffff","opacity":0.9},
 "encoding":{
  "x":{"field":"q","type":"quantitative","scale":{"domain":[-0.22,20.26],"nice":false,"zero":false},
   "axis":{"orient":"bottom","offset":30,"values":[0,0.97,1.88,2.8,3.74,4.97,6.07,7,8.26,9.34,10.65,11.99,13,14.17,15.13,15.98,17.08,18.25,18.98,19.97],
    "grid":false,"domain":true,"domainColor":"#333333","domainWidth":1.5,"tickSize":5,"tickColor":"#333333","tickWidth":1.5,
    "labelExpr":"['360','720','1080','1,4k','1,8k','2,2k','3k','3,6k','4,5k','5,5k','7k','9k','11k','13k','15k','18k','22k','30k','36k','43k'][indexof([0,0.97,1.88,2.8,3.74,4.97,6.07,7,8.26,9.34,10.65,11.99,13,14.17,15.13,15.98,17.08,18.25,18.98,19.97], datum.value)]",
    "labelFont":"Lato","labelFontSize":13.5,"labelColor":"#333333","labelPadding":4,"labelOverlap":false,"labelFlush":false,
    "title":"Q(m³/h)","titleFont":"Lato","titleFontSize":16,"titleFontWeight":"normal","titleColor":"#333333","titlePadding":3}},
  "y":{"field":"h","type":"quantitative","scale":{"domain":[1,14.14],"nice":false,"zero":false},"axis":null},
  "text":{"field":"t"}
 }},
{"data":{"name":"tags"},
 "transform":[{"filter":"datum.part === 'top'"}],
 "mark":{"type":"text","angle":20,"font":"Liberation Sans","fontSize":7,"color":"#ffffff","opacity":0.9},
 "encoding":{
  "x":{"field":"q","type":"quantitative","scale":{"domain":[-0.22,20.26],"nice":false,"zero":false},"axis":null},
  "y":{"field":"h","type":"quantitative","scale":{"domain":[1,14.14],"nice":false,"zero":false},"axis":null},
  "text":{"field":"t"}
 }}
]
}
